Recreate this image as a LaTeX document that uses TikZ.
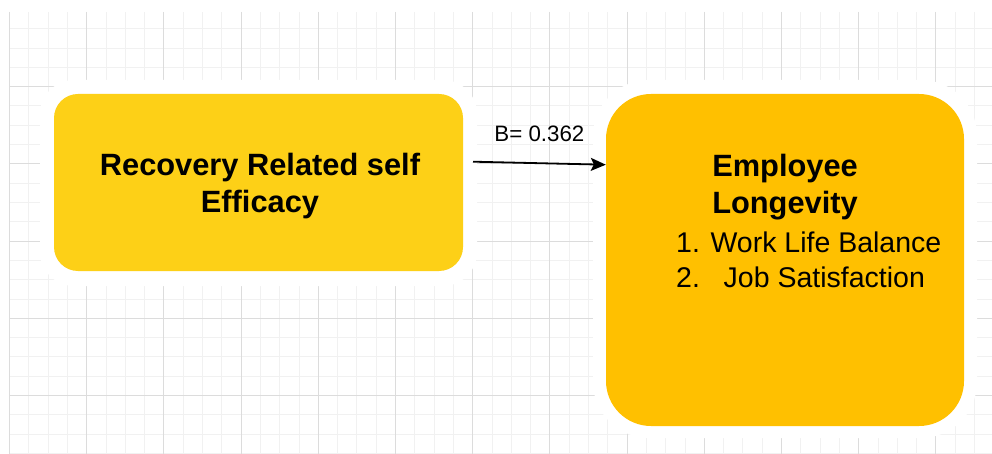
\documentclass[tikz,border=0pt]{standalone}
\usepackage{fontspec}
\setmainfont{Liberation Sans}
\usetikzlibrary{arrows.meta,positioning}
\definecolor{gridminor}{HTML}{F1F1F1}
\definecolor{gridmajor}{HTML}{DCDCDC}
\definecolor{effyellow}{HTML}{FDD017}
\definecolor{longorange}{HTML}{FFC000}

\begin{document}
\begin{tikzpicture}[x=1pt,y=-1pt,>={Stealth[length=15pt,width=13pt,inset=3pt]},
            minor/.style={gridminor,line width=1pt},
            major/.style={gridmajor,line width=1pt},
            halo/.style={fill=white,rounded corners=#1},
            box/.style={rectangle,rounded corners=#1,inner sep=0pt},
            title/.style={font=\bfseries\fontsize{30.8}{37}\selectfont,align=center,inner sep=0pt},
            item/.style={font=\fontsize{28.5}{35}\selectfont,align=left,inner sep=0pt}]

      \useasboundingbox (0,0) rectangle (992,454);

      \foreach \k in {0,...,50}
            \draw[minor] (9.5+19.3*\k,12) -- (9.5+19.3*\k,454);
      \foreach \k in {1,...,23}
            \draw[minor] (9,9.5+19.3*\k) -- (992,9.5+19.3*\k);
      \foreach \k in {0,...,12}
            \draw[major] (9.5+77.2*\k,12) -- (9.5+77.2*\k,454);
      \foreach \k in {1,...,5}
            \draw[major] (9,9.5+77.2*\k) -- (992,9.5+77.2*\k);

      \fill[halo=34pt] (40,80) rectangle (477,286);
      \fill[halo=56pt] (593,80) rectangle (977,438);

      \node[box=24pt,fill=effyellow,minimum width=409pt,minimum height=177pt] (rrse) at (258.5,182.5) {};
      \node[title] (rrseText) at (260,186.5) {Recovery Related self\\Efficacy};

      \node[box=45pt,fill=longorange,minimum width=358pt,minimum height=332pt] (el) at (785,260) {};
      \node[title] (elTitle) at (785,187.5) {Employee\\Longevity};
      \node[item,anchor=north west] (elItems) at (676,231.8) {1. Work Life Balance\\2.\ \ \ Job Satisfaction};

      \coordinate (arrStart) at (473,161.7);
      \draw[->,line width=1.8pt] (arrStart) -- node[above=21pt,inner sep=0pt,font=\fontsize{22.3}{26}\selectfont] (beta) {B= 0.362} (el.152);

\end{tikzpicture}
\end{document}
